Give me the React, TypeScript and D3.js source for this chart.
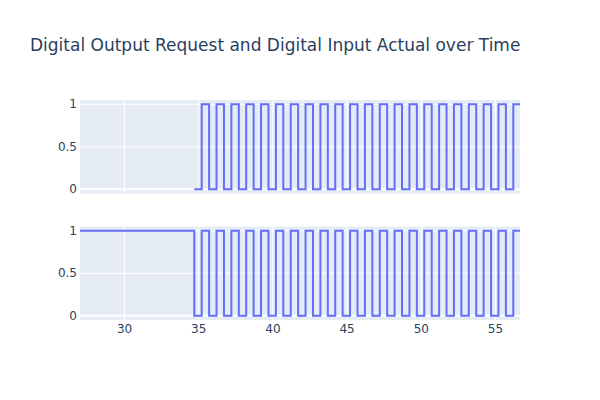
import React from "react";
import * as d3 from "d3";

// Digital Output Request: transition times (s) and logic level held from each time onward
const requestTimes = [
  34.7, 35.2, 35.7, 36.2, 36.7, 37.2, 37.7, 38.2, 38.7, 39.2, 39.7, 40.2, 40.7, 41.2, 41.7,
  42.2, 42.7, 43.2, 43.7, 44.2, 44.7, 45.2, 45.7, 46.2, 46.7, 47.2, 47.7, 48.2, 48.7, 49.2,
  49.7, 50.2, 50.7, 51.2, 51.7, 52.2, 52.7, 53.2, 53.7, 54.2, 54.7, 55.2, 55.7, 56.2, 56.65,
];
const requestValues = [
  0, 1, 0, 1, 0, 1, 0, 1, 0, 1, 0, 1, 0, 1, 0,
  1, 0, 1, 0, 1, 0, 1, 0, 1, 0, 1, 0, 1, 0, 1,
  0, 1, 0, 1, 0, 1, 0, 1, 0, 1, 0, 1, 0, 1, 1,
];

// Digital Input Actual
const actualTimes = [
  27.0, 34.7, 35.2, 35.7, 36.2, 36.7, 37.2, 37.7, 38.2, 38.7, 39.2, 39.7, 40.2, 40.7, 41.2,
  41.7, 42.2, 42.7, 43.2, 43.7, 44.2, 44.7, 45.2, 45.7, 46.2, 46.7, 47.2, 47.7, 48.2, 48.7,
  49.2, 49.7, 50.2, 50.7, 51.2, 51.7, 52.2, 52.7, 53.2, 53.7, 54.2, 54.7, 55.2, 55.7, 56.2,
  56.65,
];
const actualValues = [
  1, 0, 1, 0, 1, 0, 1, 0, 1, 0, 1, 0, 1, 0, 1,
  0, 1, 0, 1, 0, 1, 0, 1, 0, 1, 0, 1, 0, 1, 0,
  1, 0, 1, 0, 1, 0, 1, 0, 1, 0, 1, 0, 1, 0, 1,
  1,
];

const xTicks = [30, 35, 40, 45, 50, 55];
const yTicks = [0, 0.5, 1];
const yTickLabels = ["0", "0.5", "1"];
const title = "Digital Output Request and Digital Input Actual over Time";

const W = 600;
const H = 400;
const left = 80;
const right = 520;
const panels = [
  { top: 100, bottom: 193.5, times: requestTimes, values: requestValues },
  { top: 226.5, bottom: 320, times: actualTimes, values: actualValues },
];

const FONT = '"DejaVu Sans", verdana, arial, sans-serif';
const TEXT = "#2a3f5f";
const BG = "#E5ECF6";
const LINE = "#636efa";

export default function App() {
  const x = d3.scaleLinear().domain([27.0, 56.65]).range([left, right]);

  return (
    <svg width={W} height={H} style={{ display: "block", position: "absolute", left: 0, top: 0, background: "#fff" }}>
      <text x={30} y={45} dy="0.35em" fontFamily={FONT} fontSize={17} fill={TEXT}>
        {title}
      </text>
      {panels.map((p, i) => {
        const y = d3.scaleLinear().domain([-0.05, 1.05]).range([p.bottom, p.top]);
        const pts = p.times.map((t, k) => [t, p.values[k]] as [number, number]);
        const line = d3
          .line<[number, number]>()
          .x((d) => x(d[0]))
          .y((d) => y(d[1]))
          .curve(d3.curveStepAfter);
        const clipId = `clip-${i}`;
        return (
          <g key={i}>
            <defs>
              <clipPath id={clipId}>
                <rect x={left} y={p.top} width={right - left} height={p.bottom - p.top} />
              </clipPath>
            </defs>
            <rect x={left} y={p.top} width={right - left} height={p.bottom - p.top} fill={BG} />
            {xTicks.map((t) => (
              <line key={t} x1={x(t)} x2={x(t)} y1={p.top} y2={p.bottom} stroke="#fff" strokeWidth={1} />
            ))}
            {yTicks.map((t) => (
              <line
                key={t}
                x1={left}
                x2={right}
                y1={y(t)}
                y2={y(t)}
                stroke="#fff"
                strokeWidth={t === 0 ? 2 : 1}
              />
            ))}
            <path d={line(pts) ?? ""} fill="none" stroke={LINE} strokeWidth={2} clipPath={`url(#${clipId})`} />
            {yTicks.map((t, k) => (
              <text
                key={t}
                x={77}
                y={y(t)}
                dy="0.35em"
                textAnchor="end"
                fontFamily={FONT}
                fontSize={12}
                fill={TEXT}
              >
                {yTickLabels[k]}
              </text>
            ))}
            {i === panels.length - 1 &&
              xTicks.map((t) => (
                <text
                  key={t}
                  x={x(t)}
                  y={p.bottom + 9}
                  dy="0.35em"
                  textAnchor="middle"
                  fontFamily={FONT}
                  fontSize={12}
                  fill={TEXT}
                >
                  {t}
                </text>
              ))}
          </g>
        );
      })}
    </svg>
  );
}
